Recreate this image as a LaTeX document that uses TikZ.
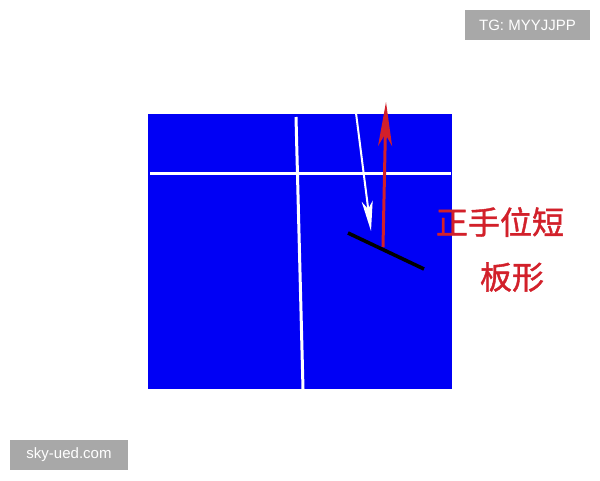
\documentclass[tikz,border=0pt]{standalone}
\usepackage{fontspec}
\setmainfont{Liberation Sans}
\newfontfamily\cjk[FakeBold=1.2]{Noto Sans CJK SC}
\usetikzlibrary{arrows.meta}
\definecolor{courtblue}{HTML}{0000F5}
\definecolor{lblred}{HTML}{D2202A}
\definecolor{wmgray}{HTML}{A8A8A8}
\tikzset{
  courtline/.style={draw=white, line width=3pt},
  wm/.style={fill=wmgray, text=white, font=\fontsize{15}{17}\selectfont, inner sep=0pt, anchor=center},
  lbl/.style={text=lblred, font=\cjk\fontsize{32}{36}\selectfont, inner sep=0pt, anchor=center}
}
\begin{document}
\begin{tikzpicture}[x=1pt,y=-1pt]
\useasboundingbox (0,0) rectangle (600,480);
\fill[white] (0,0) rectangle (600,480);
% court
\node[fill=courtblue, minimum width=304pt, minimum height=275pt, inner sep=0pt, anchor=north west] (court) at (148,114) {};
\coordinate (h1) at (150,173);
\coordinate (h2) at (451,173);
\coordinate (v1) at (296,117);
\coordinate (v2) at (303,389);
\draw[courtline] (h1) -- (h2);
\draw[courtline] (v1) -- (v2);
% black racket line
\coordinate (b1) at (348,233);
\coordinate (b2) at (424,269);
\draw[black, line width=3.6pt] (b1) -- (b2);
% white arrow
\coordinate (w1) at (356,113);
\coordinate (w2) at (371,231);
\draw[white, line width=2pt, -{Stealth[length=30pt,width=11pt,inset=8pt]}] (w1) -- (w2);
% red arrow
\coordinate (r1) at (383,247);
\coordinate (r2) at (386,102);
\draw[lblred, line width=3pt, -{Stealth[length=44pt,width=14pt,inset=12pt]}] (r1) -- (r2);
% labels
\node[lbl] (t1) at (500,222) {正手位短};
\node[lbl] (t2) at (512,277) {板形};
% watermarks
\node[wm, minimum width=125pt, minimum height=30pt] (wm1) at (527.5,25) {TG: MYYJJPP};
\node[wm, minimum width=118pt, minimum height=30pt] (wm2) at (69,455) {sky-ued.com};
\end{tikzpicture}
\end{document}
